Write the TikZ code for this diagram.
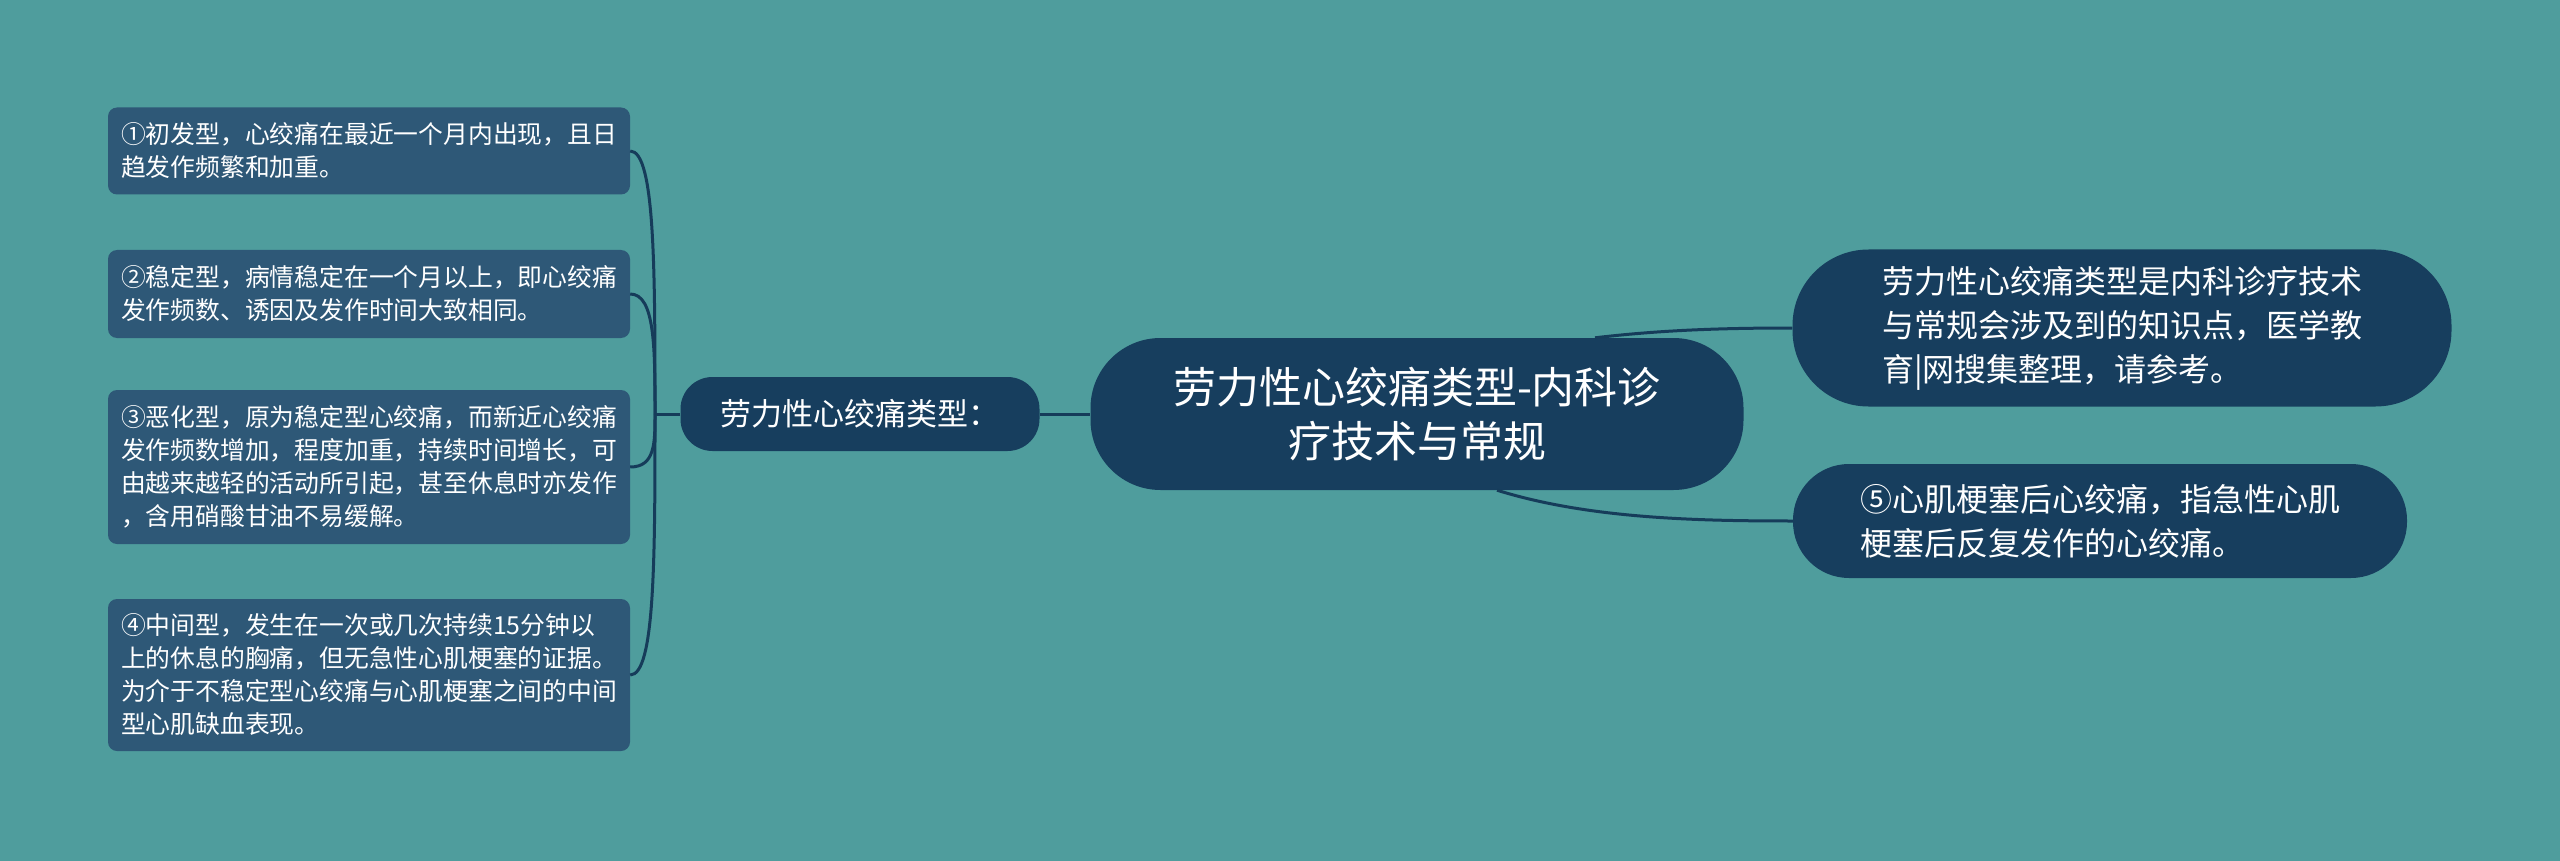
\documentclass[tikz,border=0pt]{standalone}
\usepackage{fontspec}
\setmainfont{Noto Sans CJK SC}
\usetikzlibrary{calc}
\definecolor{bgc}{RGB}{79,157,157}
\definecolor{leafc}{RGB}{46,88,119}
\definecolor{mainc}{RGB}{23,62,94}
\definecolor{connc}{RGB}{22,60,90}
\newcommand\leaffont{\fontsize{24.8}{33}\selectfont}
\newcommand\rootfont{\fontsize{43}{54}\selectfont}
\newcommand\midfont{\fontsize{31}{38}\selectfont}
\newcommand\rbfont{\fontsize{32}{44}\selectfont}
\begin{document}
\begin{tikzpicture}[x=1pt,y=-1pt,
  leaf/.style={rectangle, rounded corners=9pt, fill=leafc, text=white, align=left,
    minimum width=522pt, inner sep=0pt, font=\leaffont},
  mainbox/.style={rectangle, fill=mainc, text=white, inner sep=0pt},
  conn/.style={draw=connc, line width=3pt}]
\useasboundingbox (0,0) rectangle (2560,861);
\fill[bgc] (0,0) rectangle (2560,861);

% leaves
\node[leaf, minimum height=87pt] (l1) at (369,151) {①初发型，心绞痛在最近一个月内出现，且日\\趋发作频繁和加重。};
\node[leaf, minimum height=88pt] (l2) at (369,294) {②稳定型，病情稳定在一个月以上，即心绞痛\\发作频数、诱因及发作时间大致相同。};
\node[leaf, minimum height=154pt] (l3) at (369,467) {③恶化型，原为稳定型心绞痛，而新近心绞痛\\发作频数增加，程度加重，持续时间增长，可\\由越来越轻的活动所引起，甚至休息时亦发作\\，含用硝酸甘油不易缓解。};
\node[leaf, minimum height=152pt] (l4) at (369,675) {④中间型，发生在一次或几次持续15分钟以\\上的休息的胸痛，但无急性心肌梗塞的证据。\\为介于不稳定型心绞痛与心肌梗塞之间的中间\\型心肌缺血表现。};

% middle
\node[mainbox, rounded corners=32pt, minimum width=359pt, minimum height=74pt, font=\midfont] (mid) at (860,414) {劳力性心绞痛类型：};

% root
\node[mainbox, rounded corners=70pt, minimum width=653pt, minimum height=152pt, font=\rootfont, align=center] (root) at (1417,414) {劳力性心绞痛类型-内科诊\\疗技术与常规};

% right boxes
\node[mainbox, rounded corners=76pt, minimum width=659pt, minimum height=157pt, font=\rbfont, align=left] (rb1) at (2122,328) {劳力性心绞痛类型是内科诊疗技术\\与常规会涉及到的知识点，医学教\\育|网搜集整理，请参考。};
\node[mainbox, rounded corners=56pt, minimum width=614pt, minimum height=114pt, font=\rbfont, align=left] (rb2) at (2100,521) {⑤心肌梗塞后心绞痛，指急性心肌\\梗塞后反复发作的心绞痛。};

% connectors
\coordinate (j) at (655,414);
\draw[conn] (mid.west) -- (j);
\foreach \l in {l1,l2,l3,l4}{
  \draw[conn] (j) .. controls ($(j|-\l.east)!0.45!(j)$) and (j|-\l.east) .. (\l.east);
}
\draw[conn] (mid.east) -- (root.west);
\draw[conn] ([xshift=178pt]root.north) .. controls +(60,-7) and +(-80,0) .. (rb1.west);
\draw[conn] ([xshift=80pt]root.south) .. controls +(90,28) and +(-100,0) .. (rb2.west);
\end{tikzpicture}
\end{document}
